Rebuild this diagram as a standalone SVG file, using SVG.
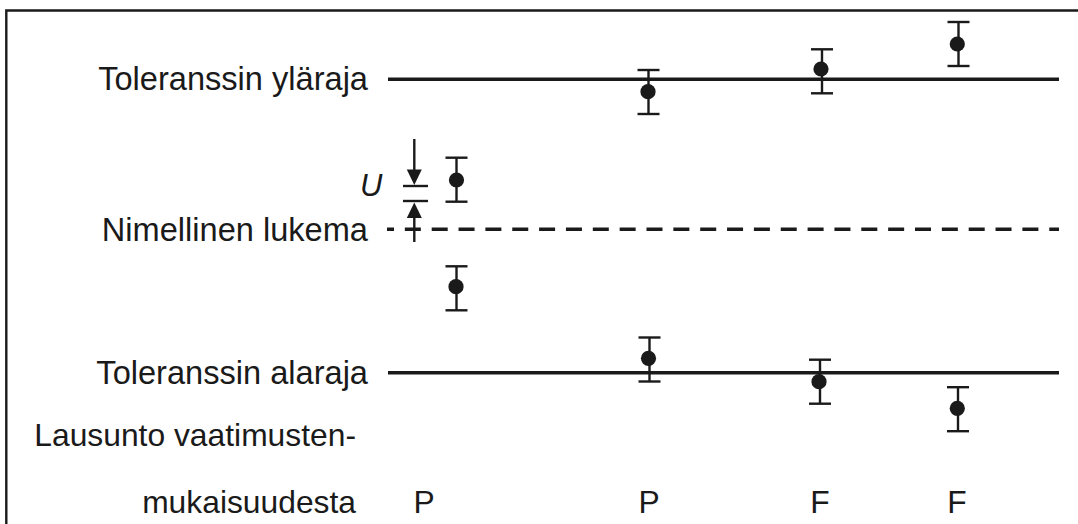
<svg xmlns="http://www.w3.org/2000/svg" width="1078" height="524" viewBox="0 0 1078 524">
<style>
.t{font-family:"Liberation Sans",Arial,sans-serif;font-size:32.6px;fill:#1a1a1a}
.s{font-size:31.8px}
.e{text-anchor:end}
.m{text-anchor:middle}
.u{font-family:"Liberation Sans",Arial,sans-serif;font-size:31px;font-style:italic;fill:#1a1a1a}
.ref{stroke:#1a1a1a;stroke-width:3.4;fill:none}
.bar{stroke:#1a1a1a;stroke-width:2.4;fill:none}
.dot{fill:#1a1a1a}
.ah{fill:#1a1a1a}
</style>
<defs>
<g id="eb">
<line class="bar" x1="0" y1="-22" x2="0" y2="22"/>
<line class="bar" x1="-11" y1="-22" x2="11" y2="-22"/>
<line class="bar" x1="-11" y1="22" x2="11" y2="22"/>
</g>
</defs>
<rect width="1078" height="524" fill="#fff"/>
<g id="frame">
<polyline points="6.3,524 6.3,10.5 1078,10.5" fill="none" stroke="#1a1a1a" stroke-width="2.4"/>
</g>
<g id="connectors">
<line class="ref" x1="388" y1="79.3" x2="1059" y2="79.3"/>
<line class="ref" x1="387" y1="229.3" x2="1059" y2="229.3" stroke-dasharray="16 10.85" stroke-dashoffset="9"/>
<line class="ref" x1="388" y1="372.7" x2="1059" y2="372.7"/>
<line class="bar" x1="414.3" y1="139" x2="414.3" y2="172"/>
<polygon class="ah" points="406.8,169.5 421.8,169.5 414.3,185"/>
<line class="bar" x1="403" y1="186" x2="428" y2="186"/>
<line class="bar" x1="403" y1="201" x2="428" y2="201"/>
<polygon class="ah" points="414.3,202.5 406.8,218 421.8,218"/>
<line class="bar" x1="414.3" y1="215" x2="414.3" y2="242"/>
</g>
<g id="label-upper"><text class="t e" x="368" y="89.5">Toleranssin yläraja</text></g>
<g id="label-nominal"><text class="t e" x="368" y="240.5">Nimellinen lukema</text></g>
<g id="label-lower"><text class="t e" x="368" y="383.5">Toleranssin alaraja</text></g>
<g id="label-statement"><text class="t s e" x="356" y="446">Lausunto vaatimusten-</text><text class="t s e" x="356" y="513">mukaisuudesta</text></g>
<g id="label-U"><text class="u" x="360" y="196">U</text></g>
<g id="bar-a1"><use href="#eb" x="456.5" y="179.7"/><circle class="dot" cx="456.5" cy="180" r="7.6"/></g>
<g id="bar-a2"><use href="#eb" x="456.5" y="288.3"/><circle class="dot" cx="456" cy="286.7" r="7.6"/></g>
<g id="bar-b1"><use href="#eb" x="648.5" y="92"/><circle class="dot" cx="648" cy="91.7" r="7.6"/></g>
<g id="bar-b2"><use href="#eb" x="649.5" y="359.5"/><circle class="dot" cx="648.5" cy="358.3" r="7.6"/></g>
<g id="bar-c1"><use href="#eb" x="822" y="71.3"/><circle class="dot" cx="821" cy="69" r="7.6"/></g>
<g id="bar-c2"><use href="#eb" x="820" y="381.7"/><circle class="dot" cx="819" cy="381.7" r="7.6"/></g>
<g id="bar-d1"><use href="#eb" x="958.5" y="44"/><circle class="dot" cx="957.3" cy="44" r="7.6"/></g>
<g id="bar-d2"><use href="#eb" x="958" y="409.2"/><circle class="dot" cx="957.3" cy="408.3" r="7.6"/></g>
<g id="verdict-1"><text class="t s m" x="424" y="513">P</text></g>
<g id="verdict-2"><text class="t s m" x="649" y="513">P</text></g>
<g id="verdict-3"><text class="t s m" x="820" y="513">F</text></g>
<g id="verdict-4"><text class="t s m" x="957" y="513">F</text></g>
</svg>
